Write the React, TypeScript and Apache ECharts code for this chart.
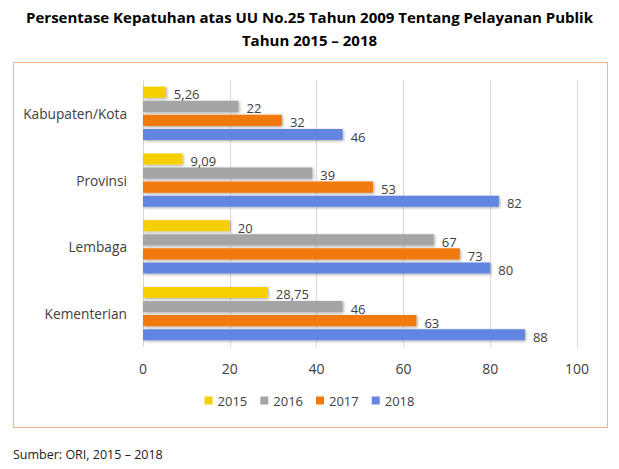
import React, { useEffect, useRef } from "react";
import * as echarts from "echarts";

const categories = ["Kabupaten/Kota", "Provinsi", "Lembaga", "Kementerian"];
const years = ["2015", "2016", "2017", "2018"];
const values2015 = [5.26, 9.09, 20, 28.75];
const values2016 = [22, 39, 67, 46];
const values2017 = [32, 53, 73, 63];
const values2018 = [46, 82, 80, 88];
const colors = ["#F5CF00", "#A5A5A5", "#F07A0A", "#6485E2"];
const xTicks = { min: 0, max: 100, interval: 20 };

export default function App() {
  const ref = useRef<HTMLDivElement>(null);
  useEffect(() => {
    if (!ref.current) return;
    const chart = echarts.init(ref.current, undefined, { renderer: "svg" });
    const seriesData = [values2015, values2016, values2017, values2018];
    const font = "'Open Sans', 'Noto Sans', sans-serif";
    chart.setOption({
      animation: false,
      backgroundColor: "#ffffff",
      textStyle: { fontFamily: font },
      title: {
        text: "Persentase Kepatuhan atas UU No.25 Tahun 2009 Tentang Pelayanan Publik\nTahun 2015 – 2018",
        left: "center",
        top: 0,
        textStyle: { fontSize: 15, fontWeight: "bold", color: "#000", lineHeight: 23, fontFamily: font },
      },
      graphic: [
        {
          type: "rect",
          shape: { x: 13.5, y: 62.5, width: 594, height: 365 },
          style: { fill: "none", stroke: "#F4B08A", lineWidth: 1 },
          z: -1,
        },
        {
          type: "text",
          left: 13,
          top: 448,
          style: { text: "Sumber: ORI, 2015 – 2018", fontSize: 12.5, fill: "#222", fontFamily: font },
        },
      ],
      legend: {
        data: years,
        bottom: 57,
        left: "center",
        itemWidth: 8,
        itemHeight: 8,
        itemGap: 13,
        icon: "rect",
        textStyle: { fontSize: 13, color: "#404040", fontFamily: font },
      },
      grid: { left: 143, right: 42, top: 80, bottom: 122 },
      xAxis: {
        type: "value",
        min: xTicks.min,
        max: xTicks.max,
        interval: xTicks.interval,
        axisLine: { show: false },
        axisTick: { show: false },
        axisLabel: { fontSize: 14, color: "#404040", margin: 14, fontFamily: font },
        splitLine: { lineStyle: { color: "#D9D9D9", width: 1 } },
      },
      yAxis: {
        type: "category",
        data: categories,
        inverse: true,
        axisLine: { show: false },
        axisTick: { show: false },
        axisLabel: { fontSize: 13.7, color: "#404040", margin: 16, fontFamily: font },
      },
      series: years.map((y, i) => ({
        name: y,
        type: "bar",
        data: seriesData[i],
        barGap: "27%",
        barCategoryGap: "20%",
        itemStyle: {
          color: colors[i],
          shadowColor: "rgba(0,0,0,0.35)",
          shadowBlur: 3,
          shadowOffsetX: 1,
          shadowOffsetY: 1,
        },
        label: {
          show: true,
          position: "right",
          distance: 8,
          offset: [0, 2],
          fontSize: 13,
          color: "#404040",
          fontFamily: font,
          formatter: (p: any) => String(p.value).replace(".", ","),
        },
      })),
    });
    return () => chart.dispose();
  }, []);
  return (
    <div
      ref={ref}
      style={{ position: "fixed", left: 0, top: 0, width: 619, height: 469 }}
    />
  );
}
